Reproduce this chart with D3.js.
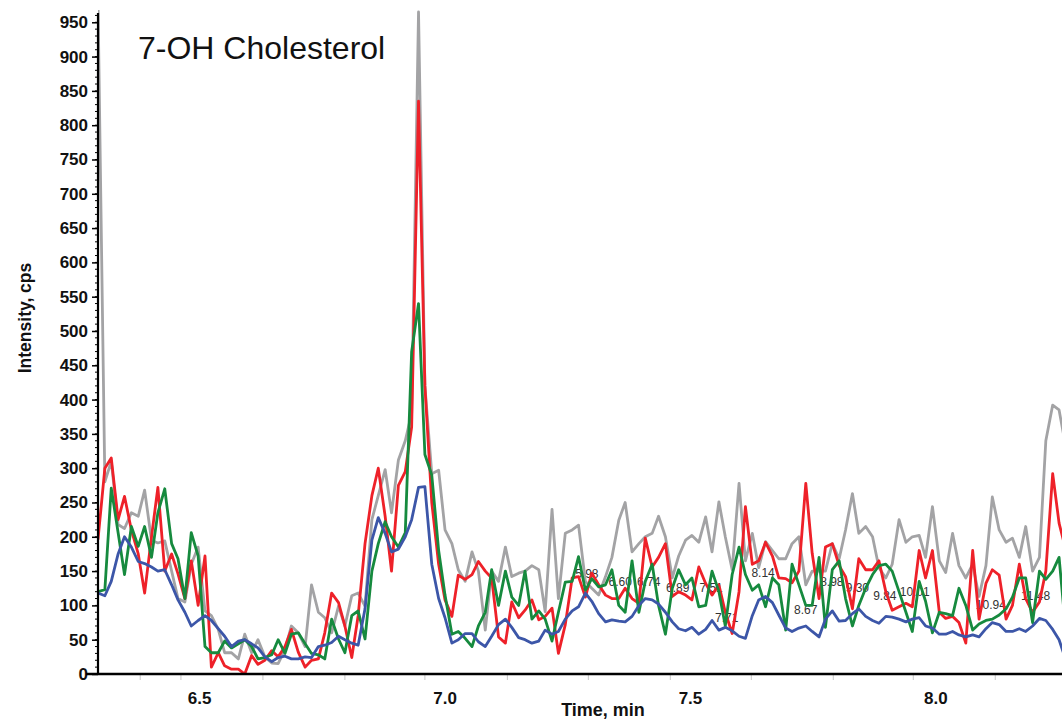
<!DOCTYPE html>
<html><head><meta charset="utf-8">
<script src="https://cdn.jsdelivr.net/npm/d3@7"></script>
<style>html,body{margin:0;padding:0;background:#fff;}svg{display:block;}</style>
</head><body>
<svg id="chart" width="1062" height="721"></svg>
<script>
const times = [6.294,6.308,6.321,6.335,6.348,6.362,6.376,6.389,6.403,6.416,6.430,6.444,6.457,6.471,6.484,6.498,6.512,6.525,6.539,6.552,6.566,6.580,6.593,6.607,6.620,6.634,6.648,6.661,6.675,6.688,6.702,6.716,6.729,6.743,6.756,6.770,6.784,6.797,6.811,6.824,6.838,6.852,6.865,6.879,6.892,6.906,6.920,6.933,6.947,6.960,6.974,6.988,7.001,7.015,7.028,7.042,7.056,7.069,7.083,7.096,7.110,7.124,7.137,7.151,7.164,7.178,7.192,7.205,7.219,7.232,7.246,7.260,7.273,7.287,7.300,7.314,7.328,7.341,7.355,7.368,7.382,7.396,7.409,7.423,7.436,7.450,7.464,7.477,7.491,7.504,7.518,7.532,7.545,7.559,7.572,7.586,7.600,7.613,7.627,7.640,7.654,7.668,7.681,7.695,7.708,7.722,7.736,7.749,7.763,7.776,7.790,7.804,7.817,7.831,7.844,7.858,7.872,7.885,7.899,7.912,7.926,7.940,7.953,7.967,7.980,7.994,8.008,8.021,8.035,8.048,8.062,8.076,8.089,8.103,8.116,8.130,8.144,8.157,8.171,8.184,8.198,8.212,8.225,8.239,8.252,8.266];

const grayValues = [980,280,310,218,212,235,230,268,195,191,
194,150,110,105,160,185,92,85,65,31,
31,22,58,31,50,25,16,15,36,70,
60,40,130,90,82,60,99,70,114,118,
99,225,260,298,235,312,340,380,965,420,
292,297,210,190,152,135,178,150,64,150,
135,185,142,147,150,158,152,91,240,110,
205,210,217,135,125,115,142,170,224,250,
178,190,200,205,230,200,140,172,195,202,
192,229,178,251,200,152,278,165,205,155,
193,180,168,168,190,200,130,150,150,150,
190,168,210,263,205,215,200,155,140,160,
225,192,200,202,170,244,165,148,205,158,
140,160,113,158,258,210,192,198,170,215,
150,170,340,392,385,330];

const redValues = [196,300,315,225,259,210,175,118,200,272,
150,175,146,110,165,100,172,10,31,12,
7,7,0,27,14,20,34,25,40,65,
32,10,20,22,60,118,104,70,24,85,
190,260,300,230,150,275,295,360,835,420,
250,160,108,84,144,138,145,164,150,140,
54,45,105,82,93,108,79,84,96,30,
72,140,142,112,147,130,115,110,110,125,
110,103,198,156,170,190,113,120,115,108,
156,132,115,130,90,59,120,244,160,165,
192,172,140,139,133,150,278,176,110,185,
190,158,142,95,168,152,152,165,120,93,
98,103,98,180,140,180,90,81,84,75,
45,180,80,132,152,144,80,100,160,110,
90,105,150,292,220,180];

const greenValues = [120,123,271,206,145,215,186,215,170,235,
270,190,168,110,206,172,40,31,31,48,
38,44,50,40,22,24,28,50,30,58,
60,44,30,28,22,80,51,31,85,92,
51,150,190,222,200,185,206,470,540,320,
290,180,115,58,62,52,40,70,90,152,
100,150,112,100,150,80,92,80,48,90,
134,135,171,122,139,127,130,152,100,90,
165,90,135,160,100,58,125,152,130,140,
98,100,150,120,70,145,185,145,122,130,
98,140,130,64,160,130,100,100,170,68,
152,165,110,70,100,125,145,158,160,150,
120,90,62,135,106,60,90,88,85,125,
100,64,73,78,80,86,95,112,140,140,
75,150,138,150,170,60];

const blueValues = [118,114,135,175,200,185,164,161,156,150,
152,130,108,90,70,78,85,78,66,55,
40,48,50,44,38,25,18,24,26,22,
22,25,24,40,42,46,55,50,45,42,
95,195,228,205,178,182,200,225,272,273,
160,110,82,45,50,59,59,47,40,55,
72,80,68,53,50,45,48,64,58,62,
80,92,98,118,106,88,76,79,77,76,
84,100,110,108,102,90,76,66,63,68,
58,65,78,64,68,63,55,52,85,108,
113,104,86,67,62,67,70,62,54,80,
92,77,78,88,95,84,78,74,84,83,
80,76,80,82,70,67,58,58,62,57,
54,57,54,66,75,72,62,62,66,62,
70,81,78,65,50,20];

const seriesNames = ["gray","red","green","blue"];
const seriesColors = ["#a3a3a5","#ee2129","#168a3e","#3c56a8"];

const xTickValues = [6.5, 7.0, 7.5, 8.0];
const xTickLabels = ["6.5","7.0","7.5","8.0"];
const xMinorTicks = [6.38,6.463,6.63,6.797,6.96,7.128,7.293,7.46,7.625,7.792,7.955,8.122];
const yTickValues = [0,50,100,150,200,250,300,350,400,450,500,550,600,650,700,750,800,850,900,950];

const peakLabelTexts = ["5.98","6.60","6.74","6.89","7.51","7.71","8.14","8.67","8.98","9.30","9.84","10.01","10.94","11.48"];
const peakLabelTimes = [7.290,7.358,7.416,7.475,7.543,7.575,7.649,7.736,7.789,7.841,7.897,7.958,8.113,8.204];
const peakLabelValues = [146,134,134,126,126,81,147,94,134,126,113,120,100,113];

const titleText = "7-OH Cholesterol";
const xTitle = "Time, min";
const yTitle = "Intensity, cps";

(function draw() {
const svg = d3.select("#chart");
const W = 1062;
const pLeft = 98, pRight = 1063, pTop = 12, pBottom = 674;

const x = d3.scaleLinear().domain([6.294, 8.26]).range([pLeft, pRight]);
const y = d3.scaleLinear().domain([0, 965]).range([pBottom, pTop]);

svg.append("defs").append("clipPath").attr("id","plotclip")
  .append("rect").attr("x", pLeft).attr("y", pTop - 2).attr("width", pRight - pLeft).attr("height", pBottom - pTop + 2);

const font = "'Liberation Sans', Arial, Helvetica, sans-serif";

const lbl = svg.append("g").attr("clip-path","url(#plotclip)");
peakLabelTexts.forEach((t, i) => {
  lbl.append("text")
    .attr("x", x(peakLabelTimes[i])).attr("y", y(peakLabelValues[i]) + 4)
    .attr("text-anchor","middle")
    .attr("font-family", font).attr("font-size", 12)
    .attr("fill", "#333").text(t);
});

const allSeries = [grayValues, redValues, greenValues, blueValues];
const gLines = svg.append("g").attr("clip-path","url(#plotclip)");
allSeries.forEach((vals, s) => {
  const n = Math.min(vals.length, times.length);
  const pts = d3.range(n).map(i => [times[i], vals[i]]);
  const line = d3.line().x(d => x(d[0])).y(d => y(d[1]));
  gLines.append("path")
    .attr("d", line(pts))
    .attr("fill","none")
    .attr("stroke", seriesColors[s])
    .attr("stroke-width", 2.8)
    .attr("stroke-linejoin","round")
    .attr("class", seriesNames[s]);
});

const yAxis = d3.axisLeft(y).tickValues(yTickValues).tickSize(6).tickPadding(4).tickFormat(d3.format("d"));
const gy = svg.append("g").attr("transform", `translate(${pLeft},0)`).call(yAxis);
gy.select(".domain").remove();
gy.selectAll(".tick line").attr("stroke","#000").attr("stroke-width",1.5);
gy.selectAll(".tick text").attr("font-family", font).attr("font-size", 17).attr("font-weight","bold").attr("fill","#111");
const yMinor = d3.range(0, 961, 10);
svg.append("g").selectAll("line").data(yMinor).join("line")
  .attr("x1", pLeft - 3).attr("x2", pLeft).attr("y1", d => y(d)).attr("y2", d => y(d))
  .attr("stroke","#000").attr("stroke-width",1);
svg.append("line").attr("x1", pLeft).attr("x2", pLeft).attr("y1", 13).attr("y2", pBottom + 1)
  .attr("stroke","#000").attr("stroke-width",2.2);

const xAxis = d3.axisBottom(x).tickValues(xTickValues).tickSize(0).tickPadding(18).tickFormat((d,i) => xTickLabels[i]);
const gx = svg.append("g").attr("transform", `translate(0,${pBottom})`).call(xAxis);
gx.select(".domain").remove();
gx.selectAll(".tick text").attr("font-family", font).attr("font-size", 17).attr("font-weight","bold").attr("fill","#111");
svg.append("g").selectAll("line").data(xMinorTicks).join("line")
  .attr("x1", d => x(d)).attr("x2", d => x(d)).attr("y1", pBottom + 1).attr("y2", pBottom + 6)
  .attr("stroke","#c8c8c8").attr("stroke-width",1);
svg.append("line").attr("x1", pLeft - 12).attr("x2", W).attr("y1", pBottom).attr("y2", pBottom)
  .attr("stroke","#000").attr("stroke-width",2.4);

svg.append("text").attr("x", 603).attr("y", 716).attr("text-anchor","middle")
  .attr("font-family", font).attr("font-size", 18).attr("font-weight","bold").attr("fill","#111").text(xTitle);
svg.append("text").attr("transform", "translate(31,318) rotate(-90)").attr("text-anchor","middle")
  .attr("font-family", font).attr("font-size", 17.5).attr("font-weight","bold").attr("fill","#111").text(yTitle);
svg.append("text").attr("x", 138).attr("y", 59)
  .attr("font-family", font).attr("font-size", 32).attr("fill","#111").text(titleText);
})();
</script>
</body></html>
